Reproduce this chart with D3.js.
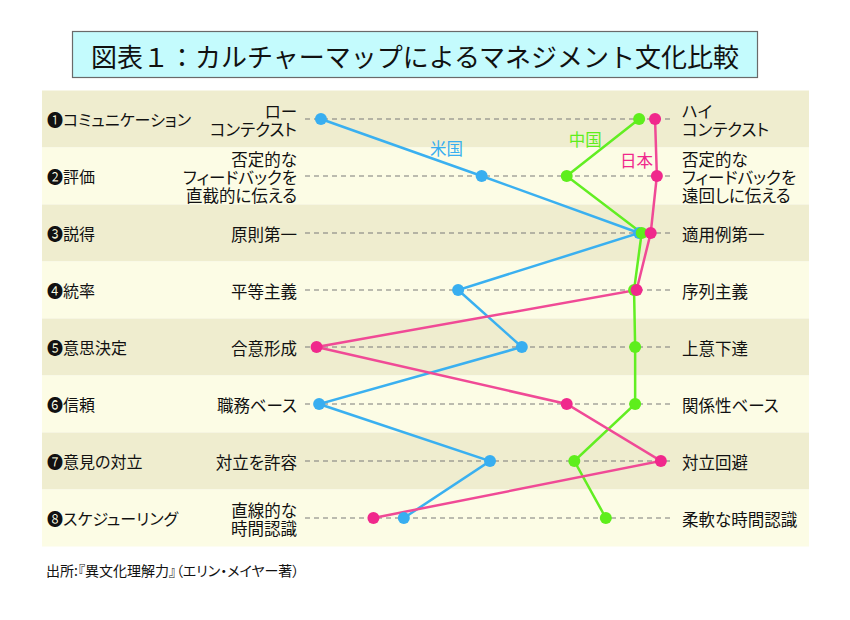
<!DOCTYPE html>
<html>
<head>
<meta charset="utf-8">
<script src="https://cdn.jsdelivr.net/npm/d3@7"></script>
<style>
  body { margin: 0; background: #fff; }
  svg { font-family: "Noto Sans CJK JP", "Noto Sans", sans-serif; }
  .palt { font-feature-settings: "palt"; }
</style>
</head>
<body>
<div id="chart"></div>
<script>
// chart data
const title = "図表１：カルチャーマップによるマネジメント文化比較";
const categories = ["❶コミュニケーション", "❷評価", "❸説得", "❹統率", "❺意思決定", "❻信頼", "❼意見の対立", "❽スケジューリング"];
const leftLabels = [["ロー", "コンテクスト"], ["否定的な", "フィードバックを", "直截的に伝える"], ["原則第一"], ["平等主義"], ["合意形成"], ["職務ベース"], ["対立を許容"], ["直線的な", "時間認識"]];
const rightLabels = [["ハイ", "コンテクスト"], ["否定的な", "フィードバックを", "遠回しに伝える"], ["適用例第一"], ["序列主義"], ["上意下達"], ["関係性ベース"], ["対立回避"], ["柔軟な時間認識"]];
const seriesNames = ["米国", "中国", "日本"];
const usValues = [4.4, 48.8, 92.3, 42.3, 59.9, 3.9, 51.1, 27.3];
const cnValues = [92.3, 72.3, 93.0, 90.9, 91.2, 91.2, 74.4, 83.1];
const jpValues = [96.7, 97.2, 95.5, 91.6, 3.2, 72.3, 98.3, 18.9];
const source = "出所:『異文化理解力』（エリン・メイヤー著）";

const width = 850, height = 620;
const colors = { "米国": "#38aef0", "中国": "#5eee1c", "日本": "#f0288c" };
const lineColors = { "米国": "#3ab0f0", "中国": "#62ee22", "日本": "#f04a96" };

const svg = d3.select("#chart").append("svg")
  .attr("width", width)
  .attr("height", height);

// title box
svg.append("rect")
  .attr("x", 72.5).attr("y", 31.5)
  .attr("width", 685).attr("height", 46)
  .attr("fill", "#c4fbfd")
  .attr("stroke", "#6a6a6a")
  .attr("stroke-width", 1.2);

svg.append("text")
  .attr("x", 415).attr("y", 55)
  .attr("text-anchor", "middle")
  .attr("dominant-baseline", "central")
  .style("font-size", "26px")
  .style("fill", "#111")
  .text(title);

let x = d3.scaleLinear()
  .domain([0, 100])
  .range([305, 667]);

let y = d3.scaleBand()
  .domain(categories)
  .range([90.5, 546.5]);

const cy = c => y(c) + y.bandwidth() / 2;

// row bands
svg.append("g")
  .selectAll("rect")
  .data(categories)
  .enter().append("rect")
    .attr("x", 42)
    .attr("y", d => y(d))
    .attr("width", 767)
    .attr("height", y.bandwidth())
    .attr("fill", (d, i) => i % 2 === 0 ? "#efedcf" : "#fcfce5");

// dashed guide lines
svg.append("g")
  .selectAll("line")
  .data(categories)
  .enter().append("line")
    .attr("x1", x.range()[0])
    .attr("x2", x.range()[1] + 5)
    .attr("y1", d => cy(d))
    .attr("y2", d => cy(d))
    .attr("stroke", "#7a7a7a")
    .attr("stroke-width", 1.2)
    .attr("stroke-dasharray", "5 4");

// category names
svg.append("g")
  .selectAll("text")
  .data(categories)
  .enter().append("text")
    .attr("class", "palt")
    .attr("x", 47)
    .attr("y", d => cy(d))
    .attr("dominant-baseline", "central")
    .style("font-size", "16px")
    .style("fill", "#111")
    .text(d => d);

// pole labels
function poleLabels(labels, xpos, anchor) {
  const g = svg.append("g");
  labels.forEach((lines, i) => {
    const c = cy(categories[i]) + 1;
    const t = g.append("text")
      .attr("class", "palt")
      .attr("text-anchor", anchor)
      .style("font-size", "16.5px")
      .style("fill", "#111");
    lines.forEach((s, j) => {
      t.append("tspan")
        .attr("x", xpos)
        .attr("y", c + (j - (lines.length - 1) / 2) * 18)
        .attr("dominant-baseline", "central")
        .text(s);
    });
  });
}
poleLabels(leftLabels, 297, "end");
poleLabels(rightLabels, 682, "start");

// series lines and dots
const series = [
  { name: "米国", values: usValues },
  { name: "中国", values: cnValues },
  { name: "日本", values: jpValues }
];

let line = d3.line()
  .x(d => x(d.v))
  .y(d => cy(d.c));

series.forEach(s => {
  const pts = s.values.map((v, i) => ({ v: v, c: categories[i] }));
  svg.append("path")
    .datum(pts)
    .attr("fill", "none")
    .attr("stroke", lineColors[s.name])
    .attr("stroke-width", 2.5)
    .attr("d", line);
});

series.forEach(s => {
  const pts = s.values.map((v, i) => ({ v: v, c: categories[i] }));
  svg.append("g")
    .selectAll("circle")
    .data(pts)
    .enter().append("circle")
      .attr("cx", d => x(d.v))
      .attr("cy", d => cy(d.c))
      .attr("r", 6)
      .attr("fill", colors[s.name]);
});

// series name labels
const nameLabels = [
  { name: "米国", v: 39.1, dy: 29 },
  { name: "中国", v: 77.4, dy: 20 },
  { name: "日本", v: 91.6, dy: 41 }
];
svg.append("g")
  .selectAll("text")
  .data(nameLabels)
  .enter().append("text")
    .attr("x", d => x(d.v))
    .attr("y", d => cy(categories[0]) + d.dy)
    .attr("text-anchor", "middle")
    .attr("dominant-baseline", "central")
    .style("font-size", "16.5px")
    .style("fill", d => colors[d.name])
    .text(d => d.name);

// source note
svg.append("text")
  .attr("class", "palt")
  .attr("x", 46)
  .attr("y", 570)
  .attr("dominant-baseline", "central")
  .style("font-size", "14px")
  .style("fill", "#111")
  .text(source);
</script>
</body>
</html>
